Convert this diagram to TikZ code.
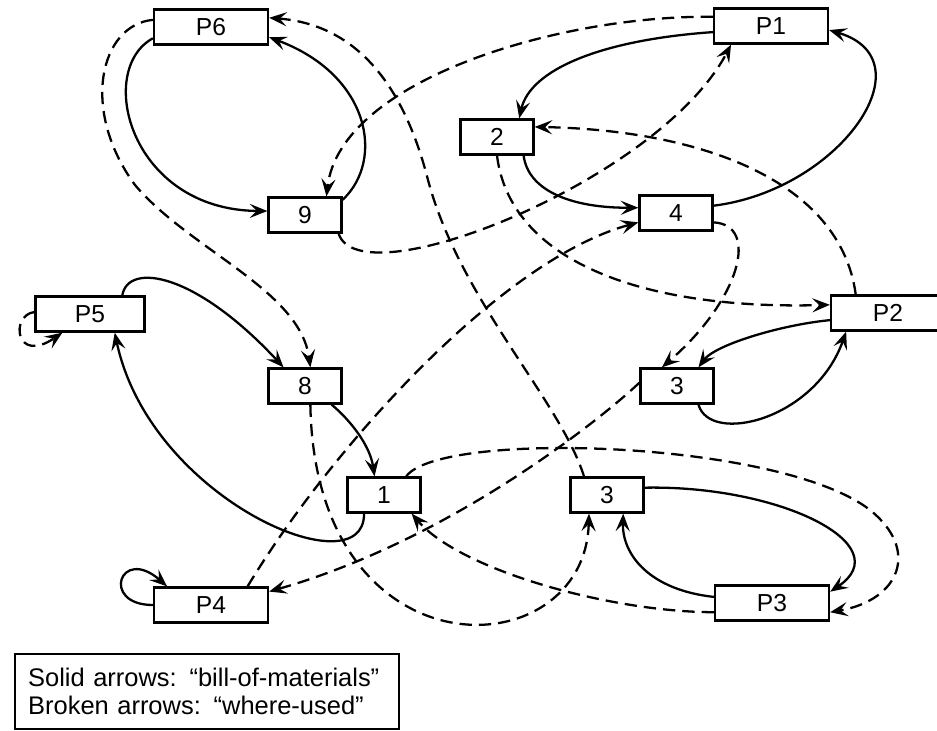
\documentclass[tikz,border=0pt]{standalone}
\usepackage{fontspec}
\setmainfont{Liberation Sans}
\usepackage{tikz}
\usetikzlibrary{arrows.meta}
\tikzset{
  pbox/.style={draw, line width=1.3pt, minimum width=22.8mm, minimum height=7mm,
               inner sep=0pt, font=\fontsize{14}{16}\selectfont},
  nbox/.style={pbox, minimum width=14.6mm},
  bom/.style={-{Stealth[length=10pt, width=8pt, inset=4pt]}, line width=1.3pt},
  wused/.style={bom, dash pattern=on 7pt off 4pt},
  legendbox/.style={draw, line width=1.3pt, anchor=north west, inner xsep=2.6mm,
                    text width=71.6mm, minimum height=15mm, align=left,
                    font=\fontsize{14.5}{16}\selectfont},
}

\begin{document}
\begin{tikzpicture}[x=0.2mm, y=-0.2mm]
  \useasboundingbox (0,0) rectangle (937,730);

  % items
  \node[pbox] (p6) at (211,27) {P6};
  \node[pbox] (p1) at (771,26) {P1};
  \node[nbox] (n2) at (497,137) {2};
  \node[nbox] (n9) at (305,215) {9};
  \node[nbox] (n4) at (676,213) {4};
  \node[pbox, minimum width=21.8mm] (p5) at (90,314) {P5};
  \node[pbox] (p2) at (888,313) {P2};
  \node[nbox] (n8) at (305,386) {8};
  \node[nbox] (n3a) at (677,386) {3};
  \node[nbox] (n1) at (384,495) {1};
  \node[nbox] (n3b) at (607,495) {3};
  \node[pbox] (p4) at (211,605) {P4};
  \node[pbox] (p3) at (772,603) {P3};

  % bill-of-materials
  \draw[bom] (p6.191) .. controls (95,70) and (130,210) .. (n9.174);
  \draw[bom] (n9.22) .. controls (385,160) and (370,75) .. (p6.-10);
  \draw[bom] (p1.186) .. controls (600,40) and (530,70) .. (n2.40);
  \draw[bom] (n2.-35) .. controls (528,190) and (570,208) .. (n4.172);
  \draw[bom] (n4.11) .. controls (840,190) and (930,60) .. (p1.-4);
  \draw[bom] (p2.187) .. controls (780,325) and (715,345) .. (n3a.41);
  \draw[bom] (n3a.-41) .. controls (710,445) and (815,420) .. (p2.204);
  \draw[bom] (p5.30) .. controls (128,262) and (195,272) .. (n8.139);
  \draw[bom] (n1.223) .. controls (365,590) and (150,500) .. (p5.-37);
  \draw[bom] (n8.-35) .. controls (350,420) and (370,445) .. (n1.117);
  \draw[bom] (n3b.11) .. controls (780,485) and (900,545) .. (p3.11);
  \draw[bom] (p3.174) .. controls (650,590) and (622,555) .. (n3b.-49);
  \draw[bom] (p4.180) .. controls (100,605) and (120,545) .. (p4.157);

  % where-used
  \draw[wused] (p1.171) .. controls (560,15) and (340,80) .. (n9.41);
  \draw[wused] (n9.-29) .. controls (360,300) and (660,180) .. (p1.205);
  \draw[wused] (p2.150) .. controls (840,180) and (700,130) .. (n2.15);
  \draw[wused] (n2.south) .. controls (510,260) and (640,310) .. (p2.172);
  \draw[wused] (n4.-14) .. controls (760,225) and (740,300) .. (n3a.129);
  \draw[wused] (n3a.175) .. controls (600,420) and (450,540) .. (p4.13);
  \draw[wused] (p4.27) .. controls (330,450) and (500,260) .. (n4.194);
  \draw[wused] (p6.173) .. controls (100,25) and (80,110) .. (135,185)
                        .. controls (190,250) and (300,290) .. (n8.74);
  \draw[wused] (n3b.141) .. controls (560,400) and (460,300) .. (428,180)
                         .. controls (405,90) and (360,25) .. (p6.9);
  \draw[wused] (n8.-74) .. controls (315,680) and (585,670) .. (n3b.226);
  \draw[wused] (p3.189) .. controls (610,612) and (460,570) .. (n1.-34);
  \draw[wused] (n1.40) .. controls (440,430) and (780,440) .. (870,510)
                       .. controls (920,550) and (900,600) .. (p3.-9);
  \draw[wused] (p5.178) .. controls (10,315) and (15,365) .. (p5.214);

  \node[legendbox] (legend) at (14,653)
    {Solid arrows: “bill-of-materials”\\Broken arrows: “where-used”};

\end{tikzpicture}
\end{document}
